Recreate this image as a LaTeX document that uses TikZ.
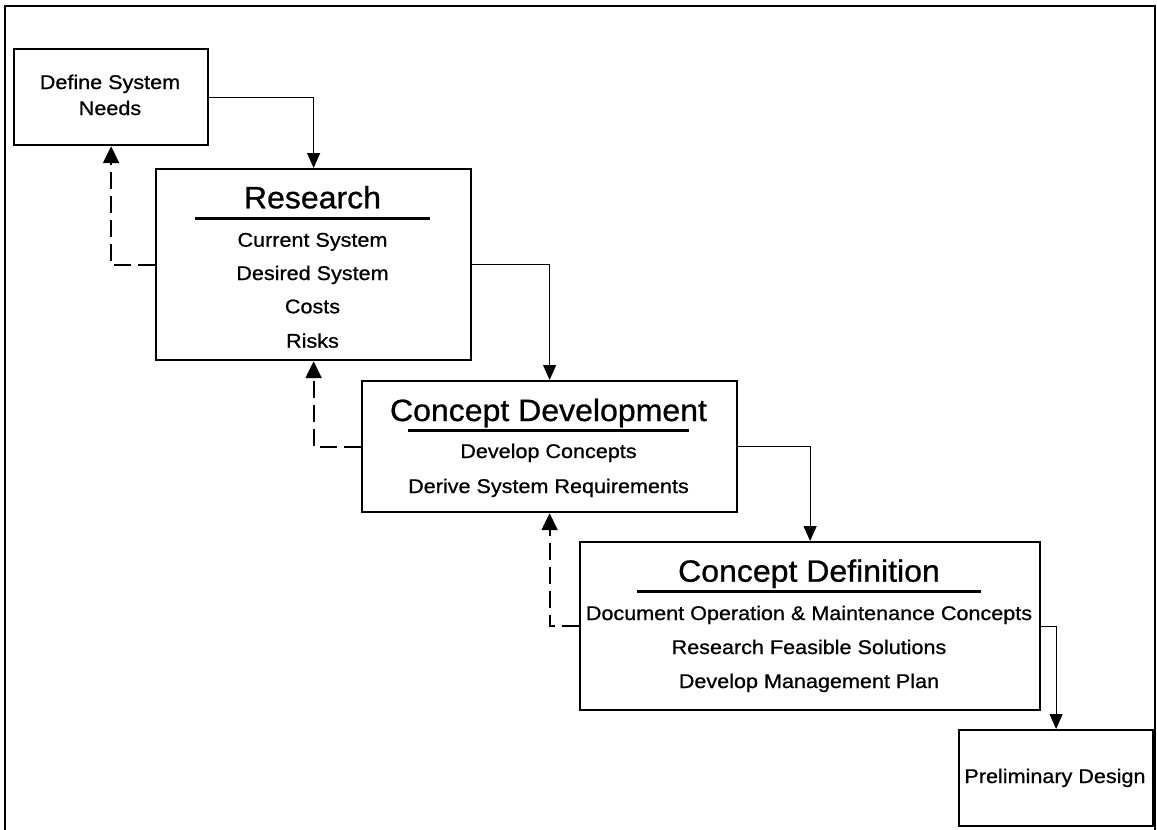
\documentclass[tikz,border=0pt]{standalone}
\usepackage{fontspec}
\setmainfont{Liberation Sans}
\newfontfamily\itemfont{Liberation Sans}[FakeStretch=1.09,FakeBold=0.8]
\newfontfamily\headfont{Liberation Sans}[FakeStretch=1.04,FakeBold=0.8]
\usetikzlibrary{arrows.meta}
\begin{document}
\begin{tikzpicture}[x=1pt,y=-1pt,
  stage/.style={draw, line width=2.2pt, inner sep=0pt, anchor=north west},
  item/.style={anchor=base, inner sep=0pt, font=\itemfont\fontsize{19.8}{24}\selectfont},
  head/.style={anchor=base, inner sep=0pt, font=\headfont\fontsize{30.8}{36}\selectfont},
  flow/.style={line width=1.2pt, -{Triangle[length=15pt,width=13pt]}},
  back/.style={line width=2.2pt, dash pattern=on 17pt off 7pt, -{Triangle[length=17pt,width=16pt]}},
  rule/.style={line width=2.6pt}]
\useasboundingbox (0,0) rectangle (1157,830);
\fill[white] (0,0) rectangle (1157,830);
% outer frame (open at the bottom)
\draw[line width=2pt] (5,830) -- (5,6) -- (1155,6) -- (1155,830);

% stage boxes
\node[stage, minimum width=194pt, minimum height=96pt] (def) at (13,48) {};
\node[stage, minimum width=315pt, minimum height=191pt] (res) at (155,168) {};
\node[stage, minimum width=375pt, minimum height=131pt] (cd) at (361,380) {};
\node[stage, minimum width=460pt, minimum height=168pt] (cdef) at (579,541) {};
\node[stage, minimum width=194pt, minimum height=96pt] (pre) at (958,729) {};

% Define System Needs
\node[item] (def1) at (110,89) {Define System};
\node[item] (def2) at (110,115) {Needs};

% Research
\node[head] (resh) at (312.5,208.3) {Research};
\draw[rule] (195,218.7) -- (430,218.7);
\node[item] (res1) at (312.5,246.7) {Current System};
\node[item] (res2) at (312.5,280) {Desired System};
\node[item] (res3) at (312.5,313.3) {Costs};
\node[item] (res4) at (312.5,347.7) {Risks};

% Concept Development
\node[head] (cdh) at (548.5,421) {Concept Development};
\draw[rule] (408,430.7) -- (689,430.7);
\node[item] (cd1) at (548.5,458) {Develop Concepts};
\node[item] (cd2) at (548.5,493) {Derive System Requirements};

% Concept Definition
\node[head] (cdefh) at (809,581.7) {Concept Definition};
\draw[rule] (637,591.7) -- (981,591.7);
\node[item] (cdef1) at (809,620) {Document Operation \& Maintenance Concepts};
\node[item] (cdef2) at (809,654) {Research Feasible Solutions};
\node[item] (cdef3) at (809,688) {Develop Management Plan};

% Preliminary Design
\node[item] (pre1) at (1055,783) {Preliminary Design};

% forward flow
\draw[flow] (def.east) -| (res.north);
\draw[flow] (res.east) -| (cd.north);
\draw[flow] (cd.east) -| (cdef.north);
\draw[flow] (cdef.east) -| (pre.north);

% feedback
\draw[back] (res.west) -| (def.south);
\draw[back] (cd.west) -| (res.south);
\draw[back] (cdef.west) -| (cd.south);
\end{tikzpicture}
\end{document}
